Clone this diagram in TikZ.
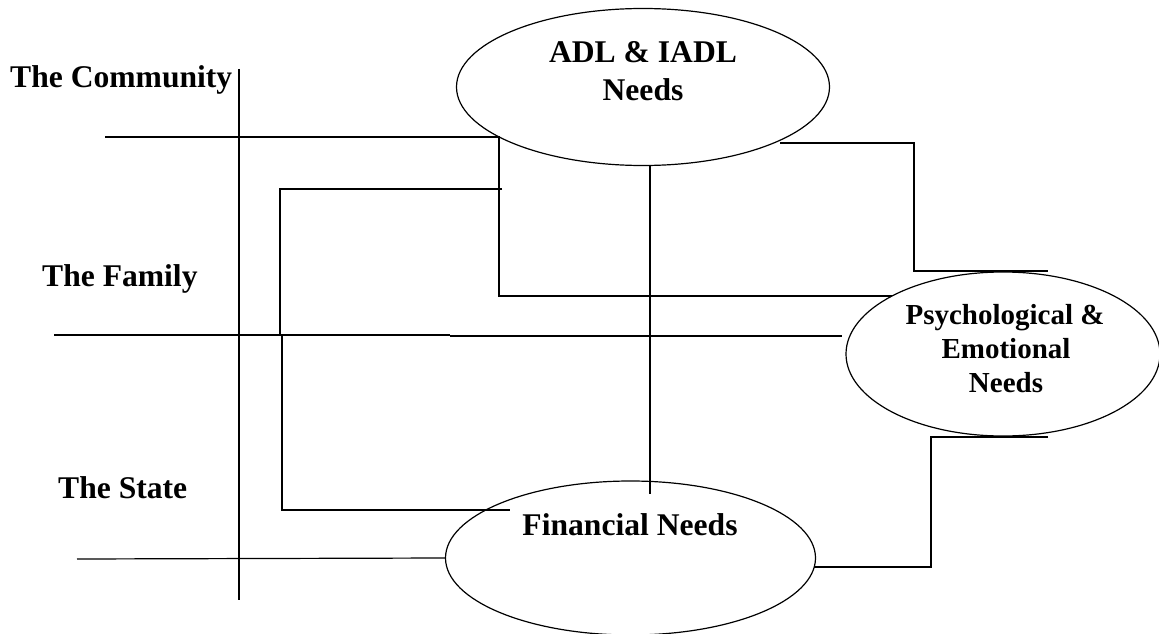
\documentclass[tikz,border=0pt]{standalone}
\usepackage{fontspec}
\setmainfont{Liberation Serif}
\usetikzlibrary{shapes.geometric}
\begin{document}
\begin{tikzpicture}[x=1pt,y=-1pt,
  wire/.style={line width=1.2pt},
  heavy/.style={line width=2.4pt},
  need/.style={ellipse,draw,line width=1.2pt,inner sep=0pt,outer sep=0pt},
  lbl/.style={inner sep=0pt,font=\bfseries\fontsize{31.6}{37}\selectfont},
  plbl/.style={inner sep=0pt,font=\bfseries\fontsize{29}{34}\selectfont}]
\useasboundingbox (0,0) rectangle (1159,634);

% the three needs
\node[need,minimum width=373pt,minimum height=157pt] (adl) at (643,87) {};
\node[need,minimum width=314pt,minimum height=164pt] (psych) at (1003,354) {};
\node[need,minimum width=370pt,minimum height=154pt] (fin) at (630.5,558) {};

\node[lbl,anchor=base] (adlA) at (643,63) {ADL \& IADL};
\node[lbl,anchor=base] (adlB) at (643,100) {Needs};
\node[plbl,anchor=base] (psA) at (1005,324) {Psychological \&};
\node[plbl,anchor=base] (psB) at (1006,358) {Emotional};
\node[plbl,anchor=base] (psC) at (1006,392) {Needs};
\node[lbl,anchor=base] (finA) at (630,535) {Financial Needs};

% the three levels of support
\node[lbl,anchor=base west] (comm) at (10,87) {The Community};
\node[lbl,anchor=base west] (fam) at (42,286) {The Family};
\node[lbl,anchor=base west] (state) at (58,498) {The State};

% free ends and corners
\coordinate (axT) at (239,69);
\coordinate (axB) at (239,600);
\coordinate (c1) at (105,137);
\coordinate (c2) at (499,137);
\coordinate (c3) at (499,296);
\coordinate (c4) at (892,296);
\coordinate (f1) at (502,189);
\coordinate (f2) at (280,189);
\coordinate (f3) at (280,335);
\coordinate (f0) at (54,335);
\coordinate (f4) at (450,335);
\coordinate (f5) at (450,336);
\coordinate (f6) at (842,336);
\coordinate (s1) at (282,335);
\coordinate (s2) at (282,510);
\coordinate (s3) at (510,510);
\coordinate (b1) at (77,559);
\coordinate (v1) at (650,165);
\coordinate (v2) at (650,494);
\coordinate (r1) at (780,143);
\coordinate (r2) at (914,143);
\coordinate (r3) at (914,271);
\coordinate (r4) at (1048,271);
\coordinate (q1) at (1048,437);
\coordinate (q2) at (931,437);
\coordinate (q3) at (931,567);
\coordinate (q4) at (814,567);

% axis
\draw[wire] (axT) -- (axB);
% community links
\draw[wire] (c1) -- (c2) -- (c3) -- (c4);
% family links
\draw[wire] (f1) -- (f2) -- (f3);
\draw[heavy] (f0) -- (f3);
\draw[wire] (f3) -- (f4);
\draw[wire] (f5) -- (f6);
% state links
\draw[wire] (s1) -- (s2) -- (s3);
\draw[wire] (b1) -- (fin.west);
% links between the needs
\draw[wire] (v1) -- (v2);
\draw[wire] (r1) -- (r2) -- (r3) -- (r4);
\draw[wire] (q1) -- (q2) -- (q3) -- (q4);
\end{tikzpicture}
\end{document}
